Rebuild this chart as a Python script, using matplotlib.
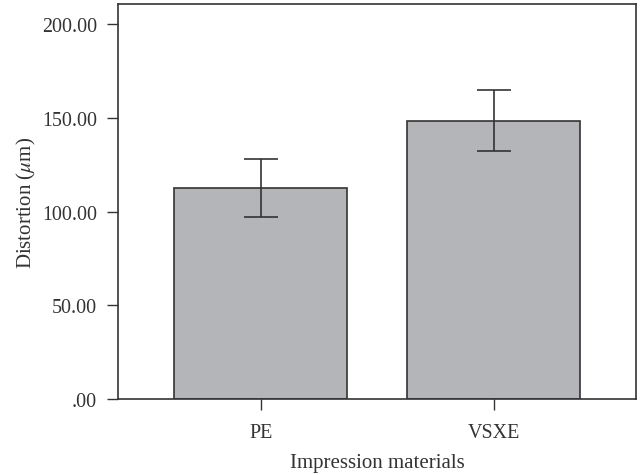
import matplotlib
matplotlib.use("Agg")
import matplotlib.pyplot as plt
from matplotlib.ticker import FuncFormatter

categories = ["PE", "VSXE"]
means = [112.4, 148.4]
errors = [15.4, 16.3]
yticks = [0, 50, 100, 150, 200]

plt.rcParams['font.family'] = ['Liberation Serif', 'DejaVu Serif']
plt.rcParams['mathtext.fontset'] = 'stix'

fig = plt.figure(figsize=(6.4, 4.77), dpi=100)
ax = fig.add_axes([0.184, 0.1614, 0.81, 0.828])

x = list(range(len(categories)))
ax.bar(x, means, width=0.743, color='#b4b5b9', edgecolor='#333333', linewidth=1.2, zorder=2)
ax.errorbar(x, means, yerr=errors, fmt='none', ecolor='#333333', elinewidth=1.2,
            capsize=12.5, capthick=1.2, zorder=3)

ax.set_xlim(-0.615, 1.613)
ax.set_ylim(0, 210.7)
ax.set_xticks(x)
ax.set_xticklabels(categories)
ax.set_yticks(yticks)

def fmt(v, pos):
    s = f"{v:.2f}"
    if s.startswith("0."):
        s = s[1:]
    return s

ax.yaxis.set_major_formatter(FuncFormatter(fmt))
ax.tick_params(axis='both', direction='out', length=8, width=1, color='#333333',
               labelsize=14.4, labelcolor='#333333')
ax.tick_params(axis='y', pad=7)
ax.tick_params(axis='x', pad=9)
for sp in ax.spines.values():
    sp.set_color('#333333')
    sp.set_linewidth(1.2)

ax.set_xlabel("Impression materials", fontsize=15, color='#333333', labelpad=8)
ax.set_ylabel(r"Distortion ($\mu$m)", fontsize=15, color='#333333', labelpad=3)

fig.savefig("out.png", dpi=100)
